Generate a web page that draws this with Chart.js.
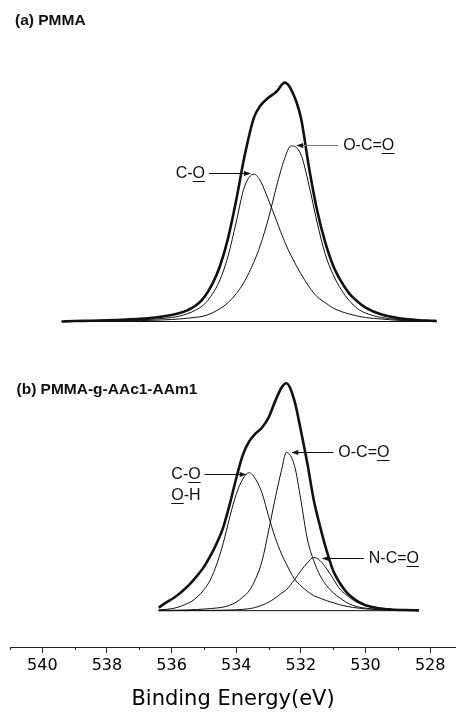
<!DOCTYPE html>
<html>
<head>
<meta charset="utf-8">
<title>O 1s XPS spectra</title>
<script src="https://cdn.jsdelivr.net/npm/chart.js@4.4.1/dist/chart.umd.min.js"></script>
<style>
  html, body { margin: 0; padding: 0; background: #fff; }
  #wrap { position: relative; width: 456px; height: 714px; }
</style>
</head>
<body>
<div id="wrap"><canvas id="xps" width="456" height="714"></canvas></div>
<script>
// ---- (a) PMMA, O 1s: binding energy (eV) and fitted intensities (a.u.) ----
const energyA = [539.4, 539.0, 538.5, 538.0, 537.5, 537.0, 536.5, 536.0, 535.75, 535.5, 535.25, 535.0,
  534.75, 534.5, 534.25, 534.0, 533.75, 533.45, 533.25, 533.0, 532.75, 532.5, 532.3, 532.0,
  531.75, 531.5, 531.25, 531.0, 530.75, 530.5, 530.25, 530.0, 529.5, 529.0, 528.5, 528.0, 527.8];
const envelopeA = [0, 0.5, 0.8, 1.2, 1.8, 2.6, 4.0, 6.5, 8.5, 11.5, 16, 24,
  37, 56, 84, 122, 165, 205, 217, 225, 231, 240, 233, 205,
  155, 112, 80, 56, 40, 28, 20, 14, 7, 3.5, 1.8, 0.8, 0.5];
const coA = [0, 0.2, 0.4, 0.6, 1.0, 1.6, 2.5, 4.0, 5.5, 8.0, 11.5, 17,
  27, 42, 66, 100, 135, 148, 141, 122, 101, 80, 66, 48,
  35, 25, 19, 13.5, 10, 7.5, 5.5, 4, 2.5, 1.2, 0.7, 0.4, 0.3];
const ocoA = [0, 0.2, 0.3, 0.4, 0.6, 0.9, 1.3, 2.0, 2.6, 3.3, 4.2, 5.5,
  8.5, 13, 19, 28, 40, 60, 77, 104, 136, 164, 176.5, 168,
  137, 100, 68, 47, 32, 21, 13, 8.5, 4, 2, 1.2, 0.7, 0.5];
const baselineEnergyA = [539.4, 527.8];
const baselineA = [0, 0];

// ---- (b) PMMA-g-AAc1-AAm1, O 1s ----
const energyB = [536.4, 536.2, 536.0, 535.8, 535.6, 535.4, 535.2, 535.0, 534.8, 534.6, 534.4, 534.2,
  534.0, 533.8, 533.6, 533.4, 533.2, 533.0, 532.8, 532.6, 532.45, 532.2, 532.0, 531.8,
  531.6, 531.4, 531.2, 531.0, 530.8, 530.6, 530.4, 530.2, 530.0, 529.6, 529.2, 528.8, 528.35];
const envelopeB = [3, 7.5, 11.5, 16, 21.5, 28, 35.5, 44, 55, 68, 84, 107,
  133, 156, 170, 178, 184, 194, 210, 224, 228.5, 211, 181, 148,
  111, 84, 60, 40, 28, 19, 13, 8.5, 5.5, 2.5, 1.2, 0.6, 0.3];
const coB = [0.8, 1.2, 2, 3.5, 6, 9, 14, 21, 31, 47, 68, 94,
  117, 132, 138.5, 132, 118, 95, 74, 57, 47, 32, 25, 19.5,
  15, 12.5, 10, 8, 6, 4.5, 3.3, 2.5, 1.8, 1, 0.6, 0.3, 0.2];
const ocoB = [0.2, 0.3, 0.4, 0.5, 0.7, 0.9, 1.2, 1.6, 2.1, 2.7, 3.6, 5.5,
  8.5, 13.5, 20, 32, 50, 80, 112, 141, 159, 146, 111, 72,
  50, 35, 25, 18, 13, 8.5, 5.5, 3.5, 2.5, 1.2, 0.6, 0.3, 0.2];
const ncoB = [0, 0, 0.05, 0.1, 0.1, 0.15, 0.2, 0.25, 0.3, 0.4, 0.5, 0.7,
  0.9, 1.3, 2, 3.3, 5.5, 8.5, 12.5, 17.5, 21, 31, 40, 48,
  53.5, 50, 42, 32, 22, 16, 11, 7.5, 5, 2, 0.7, 0.3, 0.1];
const baselineEnergyB = [536.4, 528.35];
const baselineB = [0, 0];

// ---- text ----
const panelTitles = ['(a) PMMA', '(b) PMMA-g-AAc1-AAm1'];
const xTickLabels = [540, 538, 536, 534, 532, 530, 528];
const xAxisTitle = 'Binding Energy(eV)';

const INK = '#111';

function points(xs, ys) {
  return xs.map((x, i) => ({ x: x, y: ys[i] }));
}

function trace(xs, ys, axis, width) {
  return {
    data: points(xs, ys),
    yAxisID: axis,
    borderColor: INK,
    borderWidth: width,
    pointRadius: 0,
    pointHoverRadius: 0,
    fill: false,
    cubicInterpolationMode: 'monotone'
  };
}

// Labelled arrows pointing at each fitted component's maximum.
// Each label line is a list of [text, underlined] pieces.
const callouts = [
  { axis: 'ya', energies: energyA, values: coA, side: 'left', dx: -3, dy: -1, stroke: INK,
    label: [[['C-', false], ['O', true]]] },
  { axis: 'ya', energies: energyA, values: ocoA, side: 'right', dx: 5, dy: -1, stroke: '#777',
    label: [[['O-C=', false], ['O', true]]] },
  { axis: 'yb', energies: energyB, values: coB, side: 'left', dx: -2.5, dy: 1, stroke: INK,
    label: [[['C-', false], ['O', true]], [['O', true], ['-H', false]]] },
  { axis: 'yb', energies: energyB, values: ocoB, side: 'right', dx: 5, dy: 0, stroke: INK,
    label: [[['O-C=', false], ['O', true]]] },
  { axis: 'yb', energies: energyB, values: ncoB, side: 'right', dx: 8, dy: 1, stroke: INK,
    label: [[['N-C=', false], ['O', true]]] }
];

function drawCallout(ctx, chart, c) {
  const xs = chart.scales.x;
  const ys = chart.scales[c.axis];
  let k = 0;
  c.values.forEach((v, i) => { if (v > c.values[k]) k = i; });
  const dir = c.side === 'left' ? -1 : 1;
  const tipX = xs.getPixelForValue(c.energies[k]) + c.dx;
  const tipY = Math.round(ys.getPixelForValue(c.values[k]) + c.dy) + 0.5;
  const tailX = tipX + dir * 42;

  ctx.save();
  ctx.lineWidth = 1;
  ctx.strokeStyle = c.stroke;
  ctx.beginPath();
  ctx.moveTo(tailX, tipY);
  ctx.lineTo(tipX + dir * 6, tipY);
  ctx.stroke();

  ctx.fillStyle = INK;
  ctx.beginPath();
  ctx.moveTo(tipX, tipY);
  ctx.lineTo(tipX + dir * 7, tipY - 2.5);
  ctx.lineTo(tipX + dir * 7, tipY + 2.5);
  ctx.closePath();
  ctx.fill();

  ctx.font = "16px 'Liberation Sans', Arial, sans-serif";
  ctx.textBaseline = 'middle';
  ctx.textAlign = 'left';
  c.label.forEach((line, li) => {
    const y = tipY + li * 21.5;
    const widths = line.map(piece => ctx.measureText(piece[0]).width);
    const total = widths.reduce((a, b) => a + b, 0);
    let x = c.side === 'left' ? tailX - 4 - total : tailX + 5;
    line.forEach((piece, si) => {
      ctx.fillText(piece[0], x, y);
      if (piece[1]) ctx.fillRect(x, Math.round(y + 7), widths[si], 1);
      x += widths[si];
    });
  });
  ctx.restore();
}

const decorations = {
  id: 'decorations',
  afterDraw(chart) {
    const ctx = chart.ctx;
    const xs = chart.scales.x;

    // short minor ticks at the odd energies
    ctx.save();
    ctx.strokeStyle = '#222';
    ctx.lineWidth = 1;
    xs.ticks.forEach(t => {
      if (xTickLabels.includes(t.value)) return;
      const px = Math.round(xs.getPixelForValue(t.value)) + 0.5;
      ctx.beginPath();
      ctx.moveTo(px, xs.top);
      ctx.lineTo(px, xs.top + 3);
      ctx.stroke();
    });
    ctx.restore();

    // panel captions
    ctx.save();
    ctx.fillStyle = INK;
    ctx.font = "bold 15.5px 'Liberation Sans', Arial, sans-serif";
    ctx.textBaseline = 'middle';
    ctx.textAlign = 'left';
    ctx.fillText(panelTitles[0], 15, chart.scales.ya.top + 21);
    ctx.fillText(panelTitles[1], 16.5, chart.scales.yb.top + 34);
    ctx.restore();

    callouts.forEach(c => drawCallout(ctx, chart, c));
  }
};

new Chart(document.getElementById('xps'), {
  type: 'line',
  data: {
    datasets: [
      trace(energyA, envelopeA, 'ya', 2.6),
      trace(energyA, coA, 'ya', 1),
      trace(energyA, ocoA, 'ya', 1),
      trace(baselineEnergyA, baselineA, 'ya', 1),
      trace(energyB, envelopeB, 'yb', 2.6),
      trace(energyB, coB, 'yb', 1),
      trace(energyB, ocoB, 'yb', 1),
      trace(energyB, ncoB, 'yb', 1),
      trace(baselineEnergyB, baselineB, 'yb', 1)
    ]
  },
  options: {
    responsive: false,
    animation: false,
    devicePixelRatio: 1,
    layout: { padding: { left: 10, right: 0, top: 0, bottom: 0 } },
    plugins: { legend: { display: false }, tooltip: { enabled: false } },
    events: [],
    scales: {
      x: {
        type: 'linear',
        reverse: true,
        min: 527.2,
        max: 541,
        ticks: {
          stepSize: 1,
          autoSkip: false,
          maxRotation: 0,
          includeBounds: false,
          padding: 3,
          color: '#000',
          font: { family: "'DejaVu Sans', sans-serif", size: 16 },
          callback: v => (xTickLabels.includes(v) ? String(v) : '')
        },
        grid: {
          drawOnChartArea: false,
          drawTicks: true,
          tickLength: 6,
          tickWidth: 1,
          tickColor: ctx => (ctx.tick && xTickLabels.includes(ctx.tick.value) ? '#222' : 'rgba(0,0,0,0)')
        },
        border: { display: true, color: '#222', width: 1 },
        title: {
          display: true,
          text: xAxisTitle,
          color: '#000',
          font: { family: "'DejaVu Sans', sans-serif", size: 21 },
          padding: { top: 8.6, bottom: 2 }
        }
      },
      // the lower panel is listed first: stacked left axes are laid out bottom-up
      yb: { type: 'linear', position: 'left', stack: 'panels', stackWeight: 293, min: -36.5, max: 256.5, display: false },
      ya: { type: 'linear', position: 'left', stack: 'panels', stackWeight: 357, min: -34, max: 323, display: false }
    }
  },
  plugins: [decorations]
});
</script>
</body>
</html>
